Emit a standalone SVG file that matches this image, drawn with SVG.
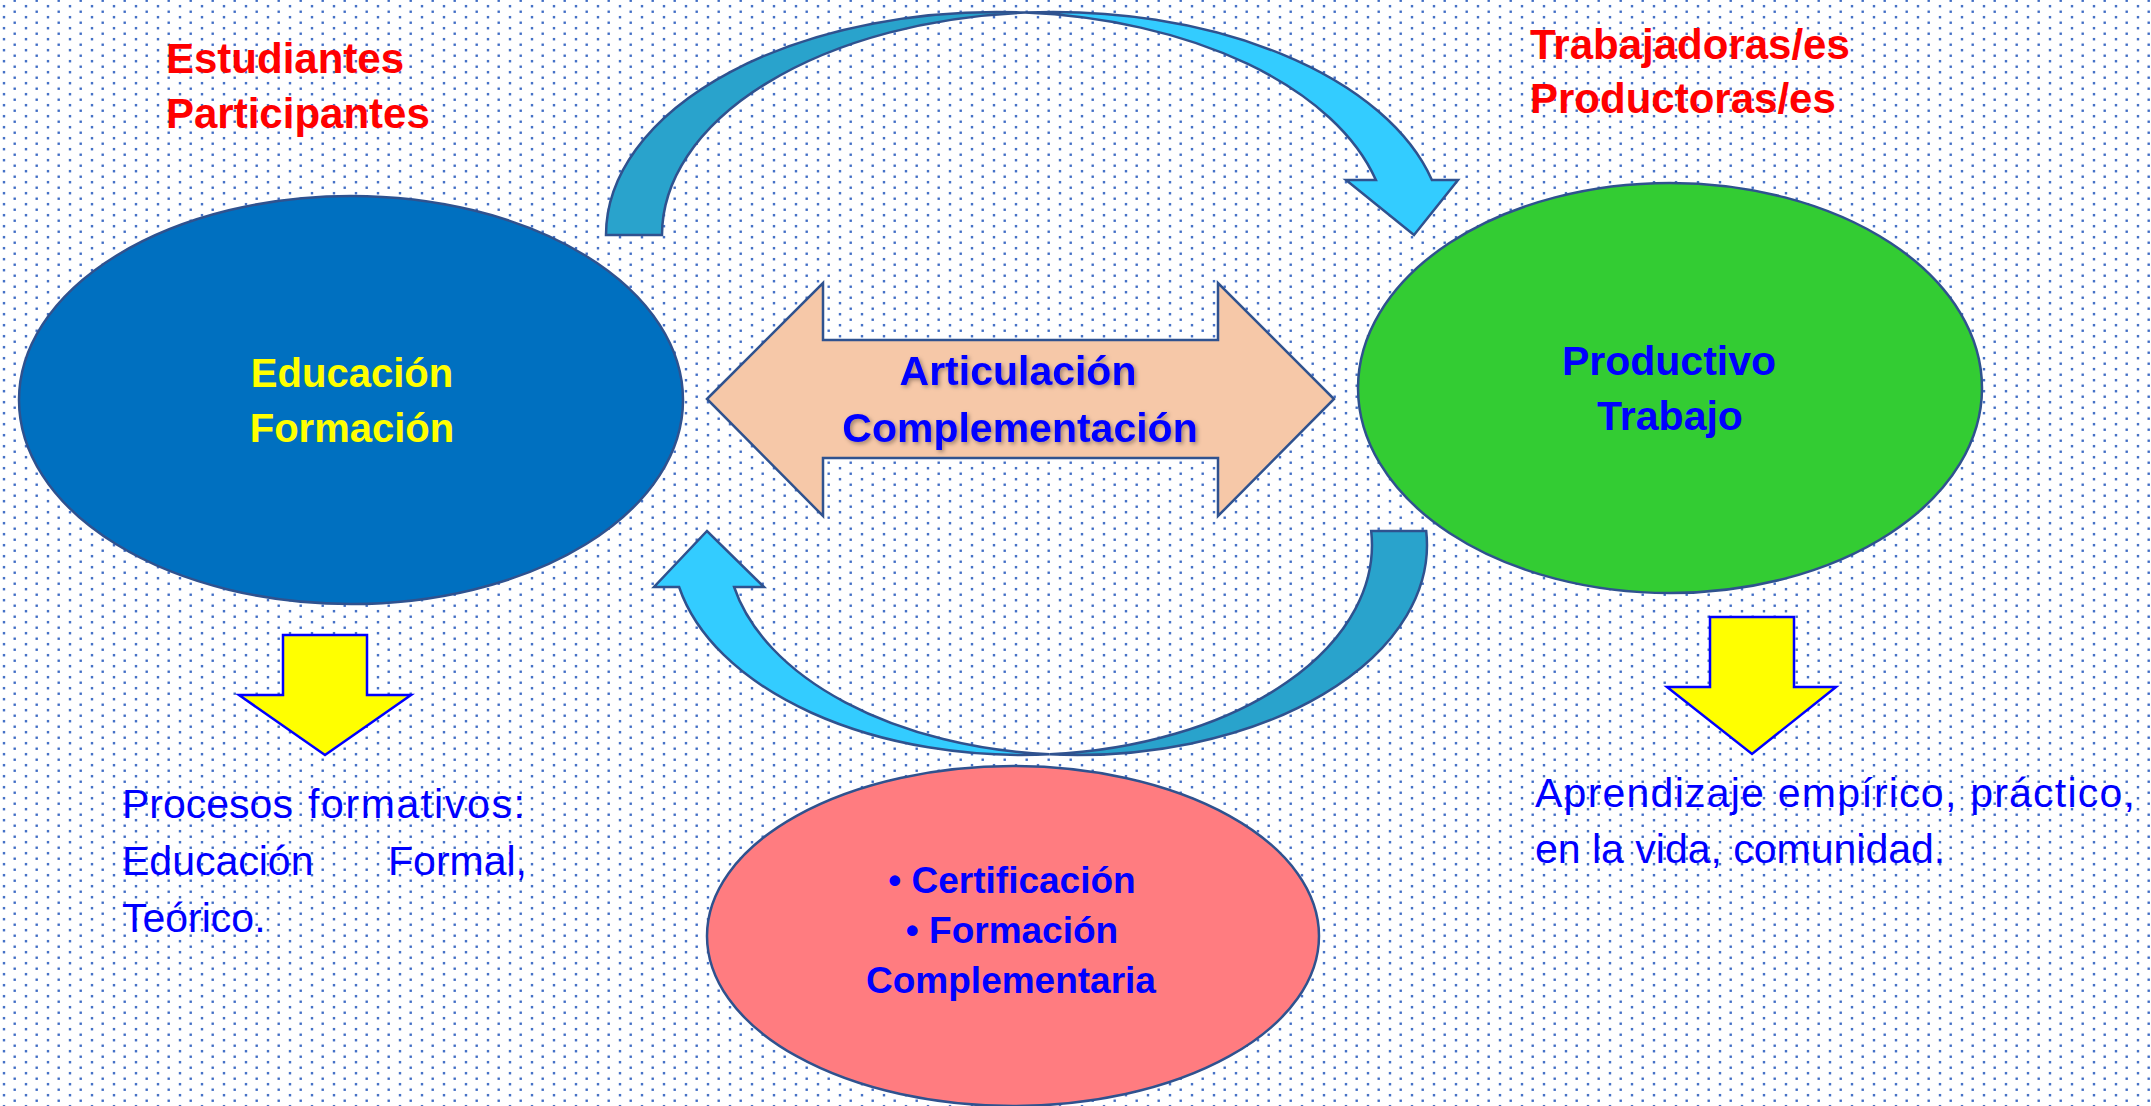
<svg xmlns="http://www.w3.org/2000/svg" width="2151" height="1106" viewBox="0 0 2151 1106">
  <defs>
    <pattern id="dots" patternUnits="userSpaceOnUse" x="0" y="-2.05" width="22" height="11">
      <rect x="2.8" y="7.05" width="2.4" height="2.4" fill="#3f6cc4"/>
      <rect x="13.5" y="1.55" width="2.4" height="2.4" fill="#3f6cc4"/>
    </pattern>
    <filter id="shadow" x="-10%" y="-20%" width="120%" height="150%">
      <feDropShadow dx="2" dy="2" stdDeviation="2" flood-color="#000" flood-opacity="0.35"/>
    </filter>
    <style>
      .shape { stroke: #2f528f; stroke-width: 2.5; stroke-linejoin: miter; }
      .yarrow { fill: #ffff00; stroke: #0000ff; stroke-width: 2.5; }
      .t { font-family: "Liberation Sans", Arial, sans-serif; }
      .b { font-weight: bold; }
      .red { fill: #ff0000; font-size: 42px; }
      .blue { fill: #0000ff; }
      .yellow { fill: #ffff00; }
      .body { fill: #0000ff; font-size: 41px; }
    </style>
  </defs>

  <g id="background">
    <rect x="0" y="0" width="2151" height="1106" fill="#ffffff"/>
    <rect x="0" y="0" width="2151" height="1106" fill="url(#dots)"/>
  </g>

  <g id="connectors">
    <!-- top curved arrow: Educación -> Productivo -->
    <g id="arrow-top">
      <path class="shape" fill="#29a3cc" d="M606,235 A391,223 0 0 1 1025,12.6 A391,223 0 0 0 662,235 Z"/>
      <path class="shape" fill="#33ccff" d="M1025,12.6 A391,223 0 0 1 1431.9,180 L1458,180 L1414,235 L1346,180 L1375.9,180 A391,223 0 0 0 1025,12.6 Z"/>
    </g>
    <!-- bottom curved arrow: Productivo -> Educación -->
    <g id="arrow-bottom">
      <path class="shape" fill="#29a3cc" d="M1371.2,531 L1426.2,531 A350,210 0 0 1 1049.5,754.35 A350,210 0 0 0 1371.2,531 Z"/>
      <path class="shape" fill="#33ccff" d="M1049.5,754.35 A350,210 0 0 1 679.1,587 L654,587 L707,531 L764,587 L734.1,587 A350,210 0 0 0 1049.5,754.35 Z"/>
    </g>
    <!-- yellow down arrows -->
    <path id="arrow-left-down" class="yarrow" d="M283,635 L367,635 L367,695 L411,695 L325,755 L239,695 L283,695 Z"/>
    <path id="arrow-right-down" class="yarrow" d="M1710,617 L1794,617 L1794,687 L1836,687 L1752,754 L1667,687 L1710,687 Z"/>
  </g>

  <g id="node-educacion">
    <ellipse class="shape" cx="351" cy="400" rx="332" ry="204" fill="#0070c0"/>
    <text class="t b yellow" x="352" y="387" font-size="40" text-anchor="middle">Educación</text>
    <text class="t b yellow" x="352" y="442" font-size="40" text-anchor="middle">Formación</text>
  </g>

  <g id="node-productivo">
    <ellipse class="shape" cx="1670" cy="388" rx="312" ry="205" fill="#33cc33"/>
    <text class="t b blue" x="1669" y="375" font-size="41" text-anchor="middle">Productivo</text>
    <text class="t b blue" x="1670" y="430" font-size="41" text-anchor="middle">Trabajo</text>
  </g>

  <g id="node-articulacion">
    <path class="shape" fill="#f6c8a8" d="M707,399 L823,283 L823,340 L1218,340 L1218,283 L1334,399 L1218,516 L1218,458 L823,458 L823,516 Z"/>
    <g filter="url(#shadow)">
      <text class="t b blue" x="1018" y="385" font-size="41" text-anchor="middle">Articulación</text>
      <text class="t b blue" x="1020" y="442" font-size="41" text-anchor="middle">Complementación</text>
    </g>
  </g>

  <g id="node-certificacion">
    <ellipse class="shape" cx="1013" cy="936" rx="306" ry="170" fill="#ff7c80"/>
    <text class="t b blue" x="1012" y="893" font-size="37" text-anchor="middle">• Certificación</text>
    <text class="t b blue" x="1012" y="943" font-size="37" text-anchor="middle">• Formación</text>
    <text class="t b blue" x="1011" y="993" font-size="37" text-anchor="middle">Complementaria</text>
  </g>

  <g id="label-estudiantes">
    <text class="t b red" x="166" y="73">Estudiantes</text>
    <text class="t b red" x="166" y="128">Participantes</text>
  </g>

  <g id="label-trabajadoras">
    <text class="t b red" x="1530" y="59">Trabajadoras/es</text>
    <text class="t b red" x="1530" y="113">Productoras/es</text>
  </g>

  <g id="label-procesos">
    <text class="t body" x="122" y="818">Procesos</text>
    <text class="t body" x="308" y="818" textLength="217" lengthAdjust="spacing">formativos:</text>
    <text class="t body" x="122" y="875">Educación</text>
    <text class="t body" x="527" y="875" text-anchor="end">Formal,</text>
    <text class="t body" x="122" y="932">Teórico.</text>
  </g>

  <g id="label-aprendizaje">
    <text class="t body" x="1535" y="807" font-size="42" textLength="600" lengthAdjust="spacing">Aprendizaje empírico, práctico,</text>
    <text class="t body" x="1535" y="863" font-size="42">en la vida, comunidad.</text>
  </g>
</svg>
